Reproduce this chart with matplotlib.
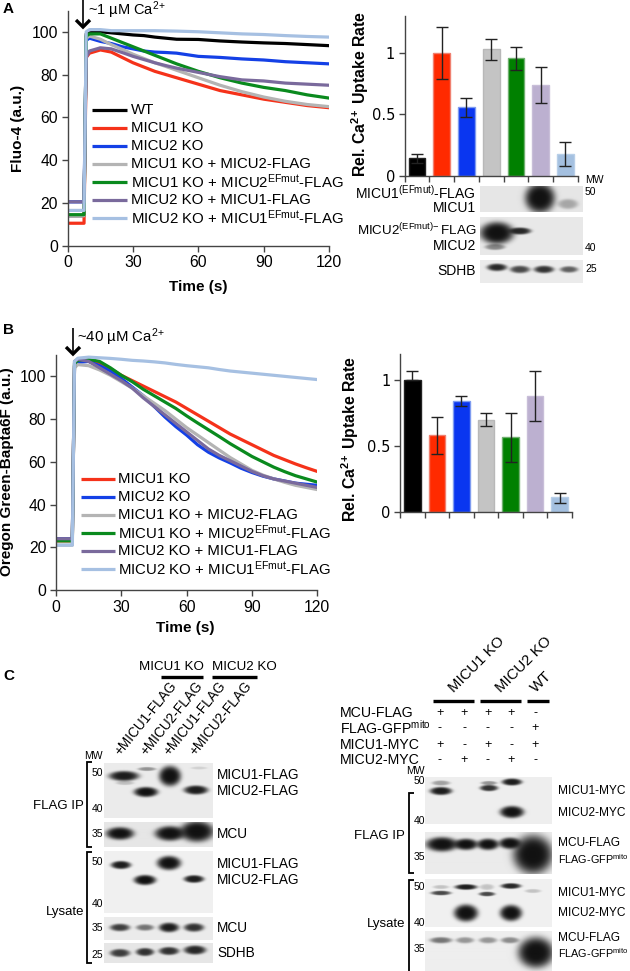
import numpy as np
import matplotlib
matplotlib.use("Agg")
import matplotlib.pyplot as plt
from matplotlib.lines import Line2D

plt.rcParams['font.family'] = ['Liberation Sans', 'DejaVu Sans']
plt.rcParams['mathtext.fontset'] = 'custom'
plt.rcParams['mathtext.rm'] = 'Liberation Sans'
plt.rcParams['mathtext.bf'] = 'Liberation Sans:bold'
plt.rcParams['mathtext.default'] = 'rm'

W, H = 630, 971

# panel A traces
time_a = [0, 7.5, 8.5, 10, 15, 20, 25, 30, 35, 40, 45, 50, 60, 70, 80, 90, 100, 110, 120]
a_wt = [14, 14, 99, 99.5, 100, 99.5, 99, 98.5, 98.2, 97.5, 97, 96.5, 96.4, 95.7, 95.2, 94.8, 94.5, 94, 93.5]
a_m1ko = [10.5, 10.5, 88, 90, 91.5, 90.5, 88, 85.5, 83.5, 81.5, 80, 78.5, 75.5, 72.5, 70.5, 68.5, 67, 65.5, 64.5]
a_m2ko = [20.5, 20.5, 96, 97, 95.5, 94.5, 93, 92, 91, 90.5, 90.3, 90, 88.5, 88, 87.3, 86.8, 86, 85.5, 85]
a_m1_m2 = [14, 14, 97, 98, 96.5, 94, 91.8, 89.5, 87.5, 85.5, 83.8, 82, 78.5, 75, 72, 69.5, 67.5, 66, 65]
a_m1_m2ef = [14.5, 14.5, 98, 99, 99, 97, 95, 93, 91, 89, 87, 85, 81.5, 78.5, 76, 74, 72.5, 70.5, 69]
a_m2_m1 = [20.5, 20.5, 88, 91, 92.5, 92, 90.3, 88.5, 87, 85.5, 84.2, 83, 81, 79, 77.5, 77, 76, 75.5, 75]
a_m2_m1ef = [16.5, 16.5, 100, 101, 101, 100.5, 100.5, 100.5, 100.5, 100.5, 100.4, 100.3, 100, 99.5, 99, 98.7, 98.2, 97.8, 97.5]

# panel B traces
time_b = [0, 7.5, 8.5, 10, 15, 20, 25, 30, 35, 40, 45, 50, 55, 60, 65, 70, 75, 80, 85, 90, 95, 100, 105, 110, 115, 120]
b_m1ko = [23, 23, 105, 107, 107, 106, 103.5, 100.5, 98, 95.5, 93, 90.5, 88, 85, 82, 79, 76, 73, 70.5, 68, 65.5, 63, 61, 59, 57.2, 55.5]
b_m2ko = [24, 24, 105, 106.5, 107, 105, 102.5, 99, 95, 91, 86, 81, 76.5, 72.5, 68, 64.5, 61.8, 59.5, 57, 55, 53.3, 52, 51, 50, 49.5, 49]
b_m1_m2 = [21, 21, 104, 105.5, 105, 103, 100.5, 97.5, 94.5, 91, 87.5, 84, 80, 76, 72.5, 69, 65.5, 62, 59, 56, 53.8, 52, 50.4, 49, 48, 47]
b_m1_m2ef = [23, 23, 106, 107.5, 108, 107, 104, 100.5, 97.5, 94, 91, 88, 85, 81.5, 78.2, 75, 71.8, 68.5, 65.5, 62.5, 60, 57.5, 55.4, 53.5, 52, 50.5]
b_m2_m1 = [24, 24, 107, 108, 107, 104, 101, 98, 94.5, 90, 86, 82, 78, 74, 70, 66, 63, 60.5, 58, 55.5, 53.5, 52, 51, 50, 49, 48]
b_m2_m1ef = [21, 21, 107, 108.5, 109, 108.7, 108.4, 108, 107.5, 107.2, 106.8, 106.3, 105.6, 105, 104.5, 104, 103.2, 102.5, 102, 101.5, 101, 100.5, 100, 99.5, 99, 98.5]

# bar charts
bars_a = [0.14, 1.0, 0.555, 1.027, 0.954, 0.737, 0.18]
bars_a_low = [0.10, 0.79, 0.48, 0.94, 0.86, 0.588, 0.08]
bars_a_high = [0.18, 1.21, 0.634, 1.108, 1.05, 0.88, 0.27]
bars_b = [1.0, 0.58, 0.843, 0.70, 0.566, 0.883, 0.11]
bars_b_low = [1.0, 0.437, 0.807, 0.652, 0.38, 0.69, 0.07]
bars_b_high = [1.074, 0.723, 0.88, 0.75, 0.754, 1.074, 0.145]

line_colors = ['black', '#f5321a', '#1440e6', '#b4b4b4', '#0a8a1e', '#7a6a9c', '#a6c0e2']
bar_colors = ['black', '#ff2a00', '#0a36f0', '#c4c4c4', '#008000', '#bcb0d0', '#a4c0e0']
bar_edges = ['#222222', '#f08070', '#7f9cf0', '#b8b8b8', '#70b070', '#c8bed8', '#b8cfe8']

labels_a = ['WT', 'MICU1 KO', 'MICU2 KO', 'MICU1 KO + MICU2-FLAG',
            'MICU1 KO + MICU2$^{EFmut}$-FLAG', 'MICU2 KO + MICU1-FLAG',
            'MICU2 KO + MICU1$^{EFmut}$-FLAG']

fig = plt.figure(figsize=(W / 100, H / 100), dpi=100)


def t(x, y, s, size=10, ha='left', va='center', **kw):
    return fig.text(x / W, 1 - y / H, s, fontsize=size, ha=ha, va=va, **kw)


def seg(xs, ys, lw=1.0, color='black'):
    fig.add_artist(Line2D([x / W for x in xs], [1 - y / H for y in ys], lw=lw, color=color,
                          solid_capstyle='butt', solid_joinstyle='miter'))


def axes_px(x0, x1, y_bottom, y_top):
    ax = fig.add_axes([x0 / W, 1 - y_bottom / H, (x1 - x0) / W, (y_bottom - y_top) / H])
    ax.patch.set_alpha(0)
    ax.spines['top'].set_visible(False)
    ax.spines['right'].set_visible(False)
    ax.spines['left'].set_color('#444444')
    ax.spines['bottom'].set_color('#444444')
    ax.spines['left'].set_linewidth(1.0)
    ax.spines['bottom'].set_linewidth(1.0)
    ax.tick_params(color='#444444', width=1.0, length=4, labelsize=11.3, pad=3)
    return ax


def trace_axes(x0, x1, y_bottom, y_top, ymax, times, series):
    ax = axes_px(x0, x1, y_bottom, y_top)
    for vals, col in series:
        ax.plot(times, vals, color=col, lw=2.3, solid_joinstyle='round')
    ax.set_xlim(0, 120)
    ax.set_ylim(0, ymax)
    ax.set_xticks([0, 30, 60, 90, 120])
    ax.set_yticks([0, 20, 40, 60, 80, 100])
    return ax


def bar_axes(x0, x1, y_bottom, y_top, ymax, vals, low, high):
    ax = axes_px(x0, x1, y_bottom, y_top)
    pos = np.arange(len(vals)) + 0.5
    ax.bar(pos, vals, width=0.68, color=bar_colors, edgecolor=bar_edges, linewidth=1.0)
    err = [np.array(vals) - np.array(low), np.array(high) - np.array(vals)]
    ax.errorbar(pos, vals, yerr=err, fmt='none', ecolor='#222222', elinewidth=1.0, capsize=4, capthick=1.0)
    ax.set_xlim(0, 7)
    ax.set_ylim(0, ymax)
    ax.set_xticks(range(8))
    ax.set_xticklabels([])
    ax.set_yticks([0, 0.5, 1])
    ax.set_yticklabels(['0', '0.5', '1'], fontsize=10.5, family='DejaVu Sans')
    return ax


def blot(x0, y0, x1, y1, bands, bg=0.9):
    # bands: x centre, y centre, half width, half height, darkness (figure pixels)
    xx, yy = np.meshgrid(np.arange(x0, x1) + 0.5, np.arange(y0, y1) + 0.5)
    img = np.full(xx.shape, 1.0)
    for cx, cy, hw, hh, dark in bands:
        r = ((xx - cx) / hw) ** 2 + ((yy - cy) / hh) ** 2
        img *= 1 - dark * np.exp(-r ** 2.2)
    img = 0.07 + (bg - 0.07) * img
    ax = fig.add_axes([x0 / W, 1 - y1 / H, (x1 - x0) / W, (y1 - y0) / H])
    ax.imshow(img, cmap='gray', vmin=0, vmax=1, aspect='auto', interpolation='bilinear')
    ax.axis('off')


def arrow(x, y0, y1):
    seg([x, x], [y0, y1], lw=1.2)
    fig.add_artist(Line2D([(x - 7) / W, x / W, (x + 7) / W],
                          [1 - (y1 - 7) / H, 1 - y1 / H, 1 - (y1 - 7) / H],
                          lw=2.4, color='black', solid_joinstyle='miter', solid_capstyle='butt'))


def bracket(x, y0, y1, tick=5):
    seg([x + tick, x, x, x + tick], [y0, y0, y1, y1], lw=1.3)


# panel A
series_a = list(zip([a_wt, a_m1ko, a_m2ko, a_m1_m2, a_m1_m2ef, a_m2_m1, a_m2_m1ef], line_colors))
trace_axes(67.7, 329, 245.7, 11, 109.7, time_a, series_a)
t(18, 128, 'Fluo-4 (a.u.)', 11, ha='center', rotation=90, fontweight='bold')
t(198, 287, 'Time (s)', 11, ha='center', fontweight='bold')
t(3, 9, 'A', 11, fontweight='bold')
arrow(83, 0, 27)
t(88, 10, '~1 µM Ca$^{2\\!+}$', 10.5)
for i, y in enumerate([110, 128, 146, 164, 182, 200, 218]):
    seg([92, 127], [y, y], lw=2.3, color=line_colors[i])
    t(131, y, labels_a[i], 10.8)

bar_axes(404.7, 577.7, 175.7, 16, 1.298, bars_a, bars_a_low, bars_a_high)
t(360, 94, 'Rel. Ca$^{\\mathbf{2\\!+}}$ Uptake Rate', 11.3, ha='center', rotation=90, fontweight='bold')

blot(480, 186, 583, 212, [(540, 198, 15, 15, 1.0), (568, 204, 10, 5, 0.3)], bg=0.9)
blot(480, 217, 583, 255, [(497, 233, 17, 11, 1.0), (520, 231, 11, 3.5, 0.9), (495, 247, 10, 3, 0.45)], bg=0.91)
blot(480, 260, 583, 283, [(497, 268, 10, 3.5, 0.9), (520, 270, 10, 3.5, 0.75),
                          (544, 270, 10, 3.5, 0.85), (569, 270, 9, 3, 0.65)], bg=0.92)
t(476, 193, 'MICU1$^{(EFmut)}$-FLAG', 10, ha='right')
t(476, 208, 'MICU1', 10, ha='right')
t(476, 230, 'MICU2$^{(EFmut)\\!-}$FLAG', 9.6, ha='right')
t(476, 246, 'MICU2', 10, ha='right')
t(476, 271, 'SDHB', 10, ha='right')
t(585, 180, 'MW', 7.5)
t(585, 192, '50', 7.5)
t(585, 248, '40', 7.5)
t(585, 269, '25', 7.5)

# panel B
series_b = list(zip([b_m1ko, b_m2ko, b_m1_m2, b_m1_m2ef, b_m2_m1, b_m2_m1ef], line_colors[1:]))
trace_axes(56, 317.3, 590, 355, 110, time_b, series_b)
t(7, 472, 'Oregon Green-Bapta6F (a.u.)', 11, ha='center', rotation=90, fontweight='bold')
t(185, 628, 'Time (s)', 11, ha='center', fontweight='bold')
t(3, 330, 'B', 11, fontweight='bold')
arrow(73, 328, 354)
t(77, 337, '~40 µM Ca$^{2\\!+}$', 10.8)
for i, y in enumerate([479, 497, 515, 533, 551, 569]):
    seg([81, 115], [y, y], lw=2.3, color=line_colors[i + 1])
    t(118, y, labels_a[i + 1], 10.8)

bar_axes(400, 572, 511.7, 354, 1.2, bars_b, bars_b_low, bars_b_high)
t(350, 439, 'Rel. Ca$^{\\mathbf{2\\!+}}$ Uptake Rate', 11.3, ha='center', rotation=90, fontweight='bold')

# panel C left
t(3, 676, 'C', 11, fontweight='bold')
t(171, 667, 'MICU1 KO', 9.6, ha='center')
t(244, 667, 'MICU2 KO', 9.6, ha='center')
seg([161, 203], [677, 677], lw=2.4)
seg([212, 257], [677, 677], lw=2.4)
for x, s in zip([123, 149, 172, 198], ['+MICU1-FLAG', '+MICU2-FLAG', '+MICU1-FLAG', '+MICU2-FLAG']):
    t(x, 758, s, 9.8, va='bottom', rotation=51, rotation_mode='anchor')

blot(104, 763, 213, 818, [(124, 776, 15, 5, 0.95), (125, 783, 9, 2, 0.2), (147, 769, 9, 2, 0.4), (146, 792, 12, 5, 1.0),
                          (170, 776, 11, 10, 1.0), (196, 790, 12, 4.5, 0.95), (199, 768, 8, 1.5, 0.12)], bg=0.92)
blot(104, 822, 213, 847, [(120, 834, 14, 6, 1.0), (170, 834, 15, 7, 1.0), (197, 832, 17, 10, 1.0)], bg=0.9)
blot(104, 851, 213, 913, [(121, 865, 10, 4, 0.95), (169, 863, 12, 7, 1.0), (145, 880, 11, 5, 1.0), (194, 879, 10, 3.8, 0.95)], bg=0.94)
blot(104, 917, 213, 940, [(120, 928, 10, 3.5, 0.8), (145, 928, 9, 3, 0.55), (169, 928, 10, 4.5, 0.95), (194, 928, 10, 4, 0.85)], bg=0.92)
blot(104, 943, 213, 963, [(120, 953, 10, 4, 0.8), (145, 952, 9, 4, 0.85), (169, 951, 10, 4, 0.85), (195, 950, 11, 4.5, 0.9)], bg=0.9)

for y, s in zip([775, 791, 834, 864, 880, 928, 953],
                ['MICU1-FLAG', 'MICU2-FLAG', 'MCU', 'MICU1-FLAG', 'MICU2-FLAG', 'MCU', 'SDHB']):
    t(217, y, s, 9.8)
for y, s in zip([756, 773, 809, 834, 862, 904, 928, 955], ['MW', '50', '40', '35', '50', '40', '35', '25']):
    t(103, y, s, 7.5, ha='right')
t(84, 806, 'FLAG IP', 9.5, ha='right')
t(84, 912, 'Lysate', 9.5, ha='right')
bracket(87, 762, 847)
bracket(87, 852, 963)

# panel C right
for x, s in zip([456, 503, 538], ['MICU1 KO', 'MICU2 KO', 'WT']):
    t(x, 695, s, 10.8, va='bottom', rotation=45, rotation_mode='anchor')
seg([433, 474], [701, 701], lw=2.4)
seg([480, 521], [701, 701], lw=2.4)
seg([527, 549], [701, 701], lw=2.4)

plus_x = [440, 464, 488, 511, 535]
row_names = ['MCU-FLAG', 'FLAG-GFP$^{mito}$', 'MICU1-MYC', 'MICU2-MYC']
row_signs = [['+', '+', '+', '+', '-'], ['-', '-', '-', '-', '+'], ['+', '-', '+', '-', '+'], ['-', '+', '-', '+', '-']]
for y, name, signs in zip([713, 728, 745, 760], row_names, row_signs):
    t(340, y, name, 10.2)
    for x, sg in zip(plus_x, signs):
        t(x, y, sg, 9, ha='center')

blot(425, 777, 552, 824, [(441, 791, 11, 4, 0.95), (441, 783, 9, 2.5, 0.35), (489, 788, 9, 3.2, 0.85), (489, 783, 8, 2, 0.4),
                          (512, 782, 10, 3.5, 0.95), (512, 812, 12, 6, 1.0)], bg=0.93)
blot(425, 832, 552, 874, [(442, 845, 16, 7, 1.0), (466, 845, 12, 5.5, 1.0), (488, 845, 11, 5.5, 1.0), (510, 844, 11, 5.5, 1.0),
                          (533, 855, 20, 19, 1.0)], bg=0.92)
blot(425, 879, 552, 927, [(441, 893, 10, 2.3, 0.75), (441, 887, 8, 2, 0.2), (466, 887, 11, 2.8, 0.95), (466, 913, 12, 8.5, 1.0),
                          (487, 894, 8, 2.3, 0.75), (487, 887, 7, 3, 0.2), (511, 886, 10, 2.8, 0.9), (511, 913, 11, 8, 1.0),
                          (533, 891, 8, 2, 0.2)], bg=0.94)
blot(425, 931, 552, 971, [(441, 941, 11, 3, 0.55), (465, 941, 9, 3, 0.4), (488, 941, 9, 3, 0.4), (510, 941, 9, 3, 0.45),
                          (536, 953, 18, 15, 1.0)], bg=0.93)

for y, s, size in zip([791, 813, 843, 859, 893, 913, 938, 953],
                      ['MICU1-MYC', 'MICU2-MYC', 'MCU-FLAG', 'FLAG-GFP$^{mito}$', 'MICU1-MYC', 'MICU2-MYC', 'MCU-FLAG', 'FLAG-GFP$^{mito}$'],
                      [8.6, 8.6, 8.6, 7.8, 8.6, 8.6, 8.6, 7.8]):
    t(558, y, s, size)
for y, s in zip([771, 781, 821, 857, 887, 923, 949], ['MW', '50', '40', '35', '50', '40', '35']):
    t(425, y, s, 7.5, ha='right')
t(405, 836, 'FLAG IP', 9.5, ha='right')
t(405, 924, 'Lysate', 9.5, ha='right')
bracket(409, 793, 873)
bracket(409, 880, 972)

fig.savefig('out.png', dpi=100)
